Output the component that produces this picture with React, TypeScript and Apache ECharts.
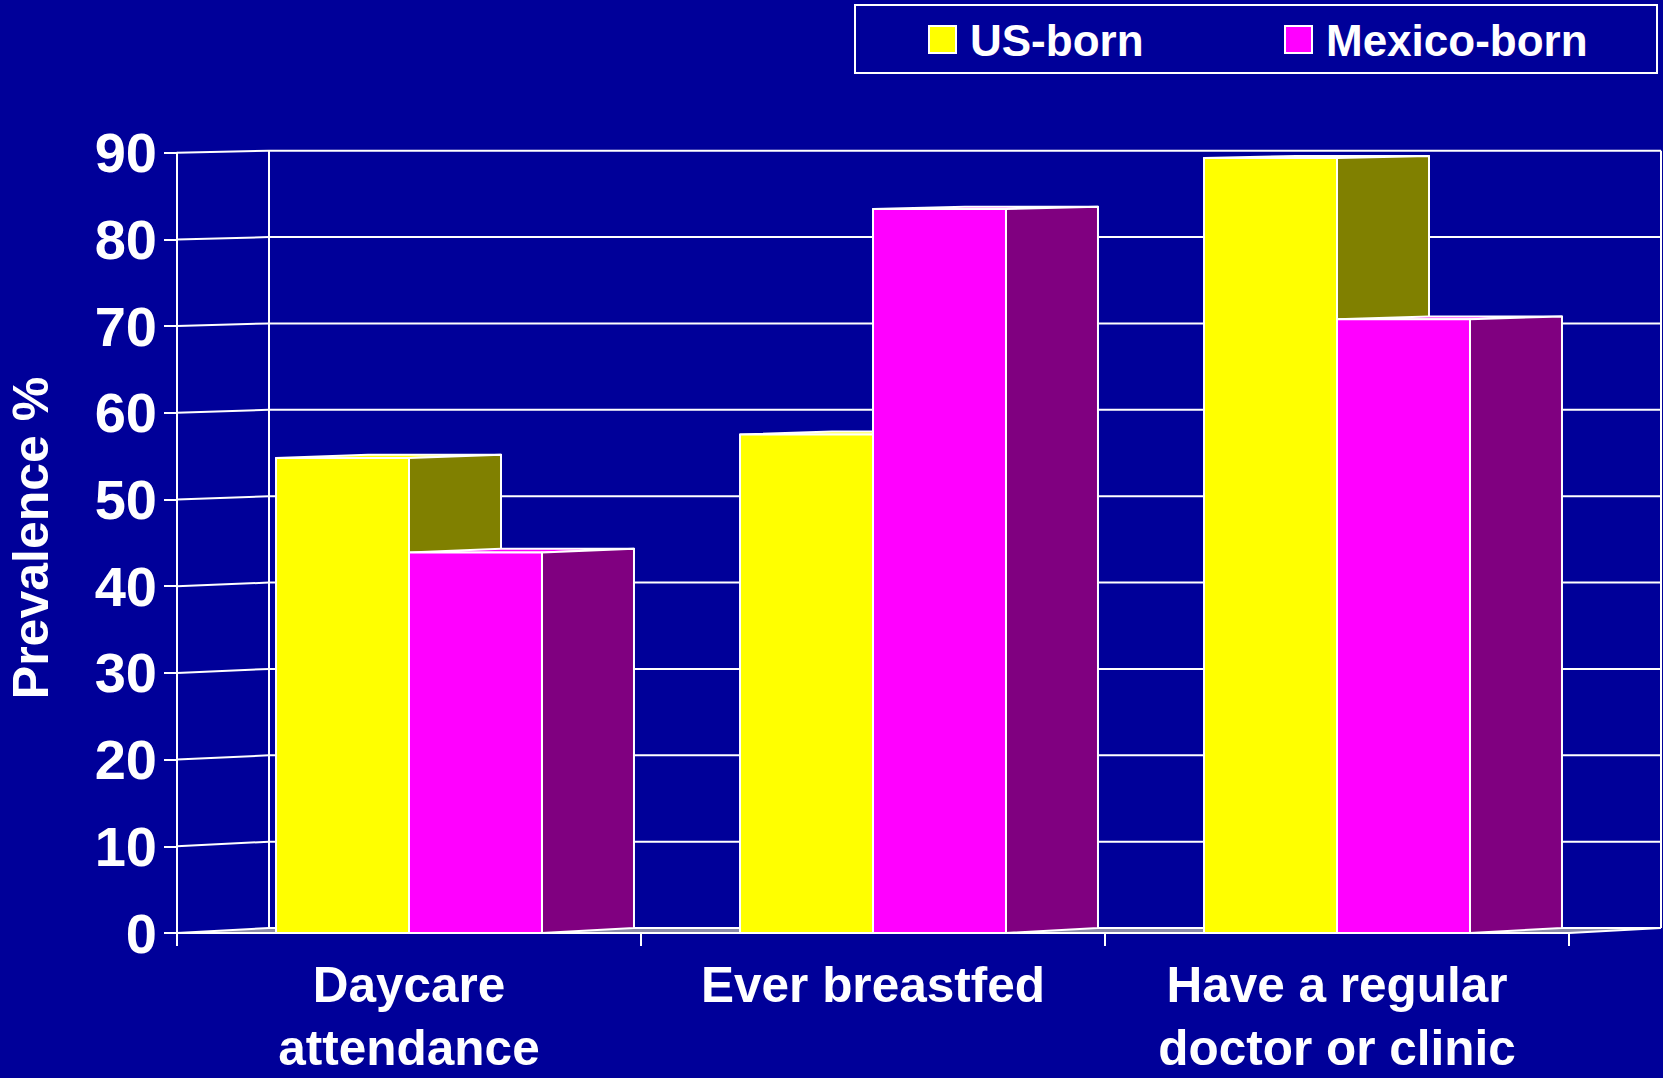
import React, { useEffect, useRef } from 'react';
import * as echarts from 'echarts';

const categories = ['Daycare\nattendance', 'Ever breastfed', 'Have a regular\ndoctor or clinic'];
const seriesNames = ['US-born', 'Mexico-born'];
const usBorn = [54.8, 57.5, 89.4];
const mexicoBorn = [43.9, 83.5, 70.8];
const yTicks = [0, 10, 20, 30, 40, 50, 60, 70, 80, 90];
const axisTitle = 'Prevalence %';

const BG = '#000099';
const FONT = '"Liberation Sans", Arial, Helvetica, sans-serif';
const FRONT_COLORS = ['#FFFF00', '#FF00FF'];
const SIDE_COLORS = ['#808000', '#800080'];
const DX = 92; // depth offset in px
const DY0 = -5; // depth shift at value 0
const DY90 = -2; // depth shift at value 90

function proj(api: any, x: number, y: number): number[] {
  const y0 = api.coord([0, 0])[1];
  const y90 = api.coord([0, 90])[1];
  const b0 = y0 + DY0;
  const b90 = y90 + DY90;
  const t = (y - y0) / (y90 - y0);
  return [x + DX, b0 + t * (b90 - b0)];
}

const lineStyle = { stroke: '#ffffff', lineWidth: 2 };

function frameRender(params: any, api: any) {
  const v = api.value(1);
  const yf = api.coord([0, v])[1];
  const cs = params.coordSys;
  const xl = cs.x;
  const xr = cs.x + cs.width;
  const b = proj(api, xl, yf);
  const children: any[] = [];
  if (params.dataIndex === 0) {
    const y0 = api.coord([0, 0])[1];
    const y90 = api.coord([0, 90])[1];
    const bl0 = proj(api, xl, y0);
    const bl90 = proj(api, xl, y90);
    const br0 = proj(api, xr, y0);
    children.push({
      type: 'polygon',
      shape: { points: [[xl, y0], [xr, y0], br0, bl0] },
      style: { fill: '#8a8aa8' },
    });
    children.push({
      type: 'line',
      shape: { x1: xr, y1: y0, x2: br0[0], y2: br0[1] },
      style: lineStyle,
    });
    children.push({
      type: 'line',
      shape: { x1: bl0[0], y1: bl0[1], x2: bl90[0], y2: bl90[1] },
      style: lineStyle,
    });
    children.push({
      type: 'line',
      shape: { x1: br0[0], y1: bl0[1], x2: br0[0], y2: bl90[1] },
      style: lineStyle,
    });
  }
  children.push({
    type: 'line',
    shape: { x1: xl, y1: yf, x2: b[0], y2: b[1] },
    style: lineStyle,
  });
  children.push({
    type: 'line',
    shape: { x1: b[0], y1: b[1], x2: xr + DX, y2: b[1] },
    style: lineStyle,
  });
  return { type: 'group', children };
}

function makeBarRender(side: number, front: string, sideColor: string) {
  return (params: any, api: any) => {
    const ci = api.value(0);
    const v = api.value(1);
    const top = api.coord([ci, v]);
    const bot = api.coord([ci, 0]);
    const cx = top[0];
    const yTop = top[1];
    const yBot = bot[1];
    const band = api.size([1, 0])[0];
    const w = band * 0.2866;
    const xl = side === 0 ? cx - w : cx;
    const xr = xl + w;
    const bt = proj(api, xr, yTop);
    const bb = proj(api, xr, yBot);
    const btl = proj(api, xl, yTop);
    const st = { stroke: '#ffffff', lineWidth: 2, lineJoin: 'round' };
    return {
      type: 'group',
      children: [
        { type: 'polygon', shape: { points: [[xl, yTop], [xr, yTop], bt, btl] }, style: { fill: front, ...st } },
        { type: 'polygon', shape: { points: [[xr, yTop], bt, bb, [xr, yBot]] }, style: { fill: sideColor, ...st } },
        { type: 'rect', shape: { x: xl, y: yTop, width: w, height: yBot - yTop }, style: { fill: front, ...st } },
      ],
    };
  };
}

function legendGraphic() {
  const items: any[] = [
    {
      type: 'rect',
      shape: { x: 855, y: 5, width: 802, height: 68 },
      style: { fill: 'transparent', stroke: '#ffffff', lineWidth: 2 },
    },
  ];
  const iconX = [929, 1285];
  seriesNames.forEach((name, i) => {
    items.push({
      type: 'rect',
      shape: { x: iconX[i], y: 26, width: 27, height: 27 },
      style: { fill: FRONT_COLORS[i], stroke: '#ffffff', lineWidth: 2 },
    });
    items.push({
      type: 'text',
      x: iconX[i] + 41,
      y: 40,
      style: {
        text: name,
        fill: '#ffffff',
        fontSize: 44,
        fontWeight: 'bold',
        fontFamily: FONT,
        textAlign: 'left',
        textVerticalAlign: 'middle',
      },
    });
  });
  return items;
}

export default function App() {
  const ref = useRef<HTMLDivElement>(null);
  useEffect(() => {
    if (!ref.current) return;
    const chart = echarts.init(ref.current, null, { renderer: 'svg' });
    const option: any = {
      animation: false,
      backgroundColor: BG,
      textStyle: { fontFamily: FONT },
      grid: {
        left: 177,
        right: 94,
        top: 152.7,
        bottom: 145,
        containLabel: false,
        outerBoundsMode: 'none',
      },
      xAxis: {
        type: 'category',
        data: categories,
        boundaryGap: true,
        axisLine: { show: true, lineStyle: { color: '#ffffff', width: 2 } },
        axisTick: { show: true, length: 13, lineStyle: { color: '#ffffff', width: 2 } },
        axisLabel: {
          color: '#ffffff',
          fontSize: 49.5,
          fontWeight: 'bold',
          fontFamily: FONT,
          lineHeight: 63,
          margin: 20,
          interval: 0,
        },
        splitLine: { show: false },
        z: 10,
      },
      yAxis: {
        type: 'value',
        min: 0,
        max: 90,
        interval: 10,
        axisLine: { show: true, lineStyle: { color: '#ffffff', width: 2 } },
        axisTick: { show: true, length: 13, lineStyle: { color: '#ffffff', width: 2 } },
        axisLabel: {
          color: '#ffffff',
          fontSize: 56,
          fontWeight: 'bold',
          fontFamily: FONT,
          margin: 20,
        },
        splitLine: { show: false },
      },
      graphic: [
        {
          type: 'text',
          x: 31,
          y: 538,
          rotation: Math.PI / 2,
          style: {
            text: axisTitle,
            fill: '#ffffff',
            fontSize: 50,
            fontWeight: 'bold',
            fontFamily: FONT,
            textAlign: 'center',
            textVerticalAlign: 'middle',
          },
        },
        ...legendGraphic(),
      ],
      series: [
        {
          type: 'custom',
          name: 'frame',
          renderItem: frameRender,
          data: yTicks.map((v) => [0, v]),
          z: 1,
          silent: true,
        },
        {
          type: 'custom',
          name: seriesNames[0],
          renderItem: makeBarRender(0, FRONT_COLORS[0], SIDE_COLORS[0]),
          data: usBorn.map((v, i) => [i, v]),
          itemStyle: { color: FRONT_COLORS[0] },
          z: 2,
        },
        {
          type: 'custom',
          name: seriesNames[1],
          renderItem: makeBarRender(1, FRONT_COLORS[1], SIDE_COLORS[1]),
          data: mexicoBorn.map((v, i) => [i, v]),
          itemStyle: { color: FRONT_COLORS[1] },
          z: 3,
        },
      ],
    };
    chart.setOption(option);
    return () => chart.dispose();
  }, []);
  return (
    <div
      ref={ref}
      style={{ position: 'fixed', left: 0, top: 0, width: 1663, height: 1078 }}
    />
  );
}
